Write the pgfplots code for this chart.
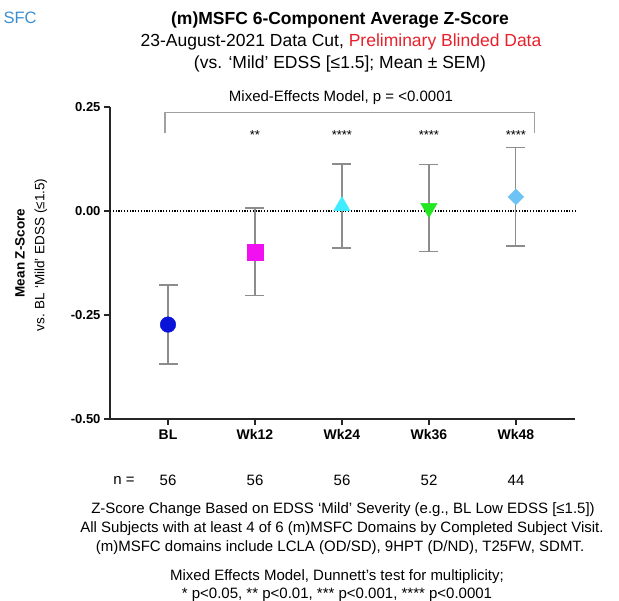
\documentclass[border=0pt]{standalone}
\usepackage{pgfplots}
\pgfplotsset{compat=1.18}
\usepackage{fontspec}
\setmainfont{Liberation Sans}
\definecolor{ebar}{HTML}{8C8C8C}
\definecolor{brk}{HTML}{A0A0A0}
\definecolor{cBL}{HTML}{0A14D8}
\definecolor{cW12}{HTML}{F010F0}
\definecolor{cW24}{HTML}{40ECFF}
\definecolor{cW36}{HTML}{22E622}
\definecolor{cW48}{HTML}{6EC3F5}
\definecolor{ttlred}{HTML}{E8202A}
\definecolor{sfcblue}{HTML}{3D8FD1}
\pgfplotsset{
  eb/.style={error bars/y dir=both, error bars/y explicit,
    error bars/error bar style={line width=1.2bp, ebar},
    error bars/error mark options={rotate=90, mark size=9.5bp, line width=1.2bp, ebar}},
}
\begin{document}
\begin{tikzpicture}
\clip (0,0) rectangle (619bp,601bp);
\path[use as bounding box] (0,0) rectangle (619bp,601bp);
\begin{axis}[
  at={(110bp,182bp)}, anchor=south west, scale only axis,
  width=465bp, height=312bp,
  xmin=-0.667, xmax=4.68, ymin=-0.5, ymax=0.25,
  axis x line=bottom, axis y line=left,
  axis line style={-, line width=1.5bp, black!85},
  xtick={0,1,2,3,4}, xticklabels={BL,Wk12,Wk24,Wk36,Wk48},
  ytick={-0.5,-0.25,0,0.25}, yticklabels={-0.50,-0.25,0.00,0.25},
  tick align=outside, major tick length=6bp,
  tick style={line width=1.5bp, black!85},
  yticklabel style={font=\fontsize{13bp}{15bp}\selectfont\bfseries},
  xticklabel style={font=\fontsize{14bp}{16bp}\selectfont\bfseries, yshift=-1bp},
  clip=false,
]
\addplot[black, line width=1.1bp, dash pattern=on 1.2bp off 1.6bp, forget plot] coordinates {(-0.667,0) (4.68,0)};
\draw[brk, line width=1.1bp] (axis cs:-0.035,0.1875) -- (axis cs:-0.035,0.236) -- (axis cs:4.21,0.236) -- (axis cs:4.21,0.1875);
\addplot[only marks, eb, mark=*, mark size=7.8bp, mark options={fill=cBL, draw=cBL}] coordinates {(0,-0.273) +- (0,0.095)};
\addplot[only marks, eb, mark=square*, mark size=8bp, mark options={fill=cW12, draw=cW12}] coordinates {(1,-0.098) +- (0,0.105)};
\addplot[only marks, eb, mark=triangle*, mark size=9.5bp, mark options={fill=cW24, draw=cW24}] coordinates {(2,0.012) +- (0,0.101)};
\addplot[only marks, eb, mark=triangle*, mark size=9.5bp, mark options={fill=cW36, draw=cW36, rotate=180}] coordinates {(3,0.007) +- (0,0.104)};
\addplot[only marks, eb, mark=square*, mark size=5.6bp, mark options={fill=cW48, draw=cW48, rotate=45}] coordinates {(4,0.034) +- (0,0.118)};
\node[font=\fontsize{13bp}{15bp}\selectfont, anchor=base] at (axis cs:1,0.172) {**};
\node[font=\fontsize{13bp}{15bp}\selectfont, anchor=base] at (axis cs:2,0.172) {****};
\node[font=\fontsize{13bp}{15bp}\selectfont, anchor=base] at (axis cs:3,0.172) {****};
\node[font=\fontsize{13bp}{15bp}\selectfont, anchor=base] at (axis cs:4,0.172) {****};
\end{axis}
% titles
\node[sfcblue, anchor=west, font=\fontsize{16.5bp}{19bp}\selectfont] at (0bp,583bp) {SFC};
\node[font=\fontsize{17.5bp}{20bp}\selectfont\bfseries] at (340bp,581bp) {(m)MSFC 6-Component Average Z-Score};
\node[font=\fontsize{17.5bp}{20bp}\selectfont] at (341bp,559bp) {23-August-2021 Data Cut, \textcolor{ttlred}{Preliminary Blinded Data}};
\node[font=\fontsize{17.5bp}{20bp}\selectfont] at (340bp,537bp) {(vs. ‘Mild’ EDSS [≤1.5]; Mean ± SEM)};
\node[font=\fontsize{15bp}{17bp}\selectfont] at (341bp,503bp) {Mixed-Effects Model, p = <0.0001};
% y label
\node[rotate=90, font=\fontsize{13.5bp}{15bp}\selectfont\bfseries] at (20bp,348bp) {Mean Z-Score};
\node[rotate=90, font=\fontsize{13.5bp}{15bp}\selectfont] at (41bp,346bp) {vs. BL ‘Mild’ EDSS (≤1.5)};
% n row
\node[font=\fontsize{15bp}{17bp}\selectfont] at (124bp,121bp) {n =};
\foreach \xx/\nn in {168/56,255/56,342/56,429/52,516/44}{
  \node[font=\fontsize{15bp}{17bp}\selectfont] at (\xx bp,121bp) {\nn};
}
% footnotes
\node[font=\fontsize{15bp}{17bp}\selectfont] at (343bp,91bp) {Z-Score Change Based on EDSS ‘Mild’ Severity (e.g., BL Low EDSS [≤1.5])};
\node[font=\fontsize{15bp}{17bp}\selectfont] at (342bp,72bp) {All Subjects with at least 4 of 6 (m)MSFC Domains by Completed Subject Visit.};
\node[font=\fontsize{15bp}{17bp}\selectfont] at (340bp,53bp) {(m)MSFC domains include LCLA (OD/SD), 9HPT (D/ND), T25FW, SDMT.};
\node[font=\fontsize{15bp}{17bp}\selectfont] at (337bp,24bp) {Mixed Effects Model, Dunnett’s test for multiplicity;};
\node[font=\fontsize{15bp}{17bp}\selectfont] at (337bp,6bp) {* p<0.05, ** p<0.01, *** p<0.001, **** p<0.0001};
\end{tikzpicture}
\end{document}
